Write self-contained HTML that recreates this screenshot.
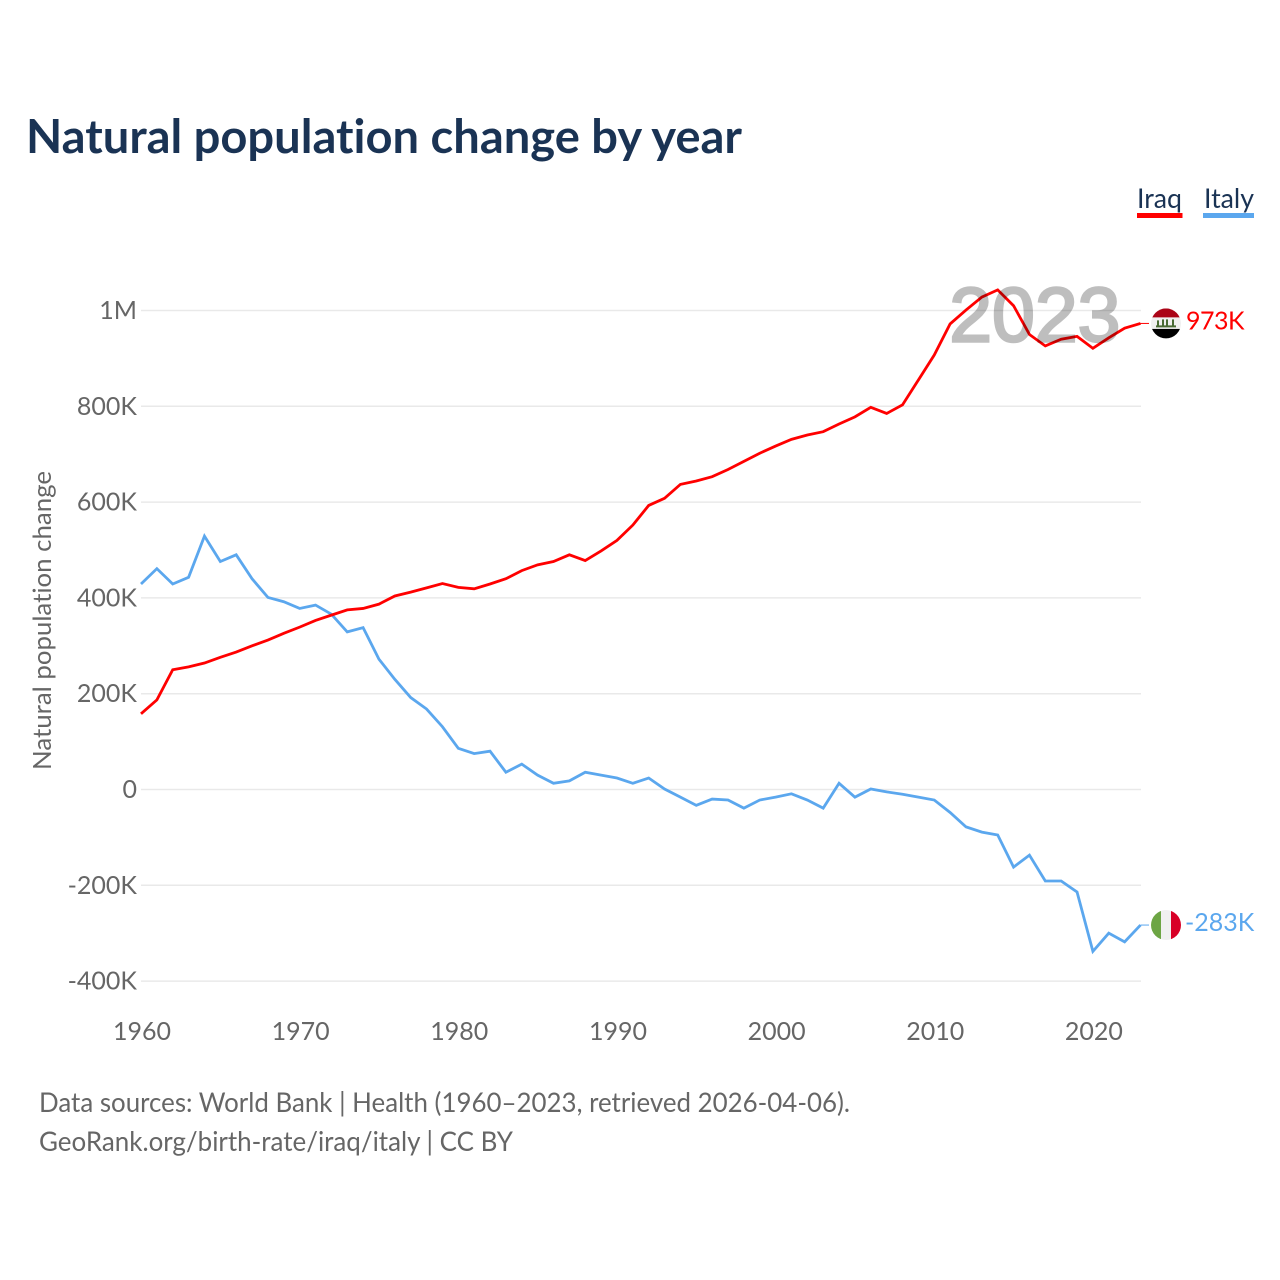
<!DOCTYPE html>
<html lang="en">
<head>
<meta charset="utf-8">
<title>Natural population change by year</title>
<style>
html,body{margin:0;padding:0;background:#fff;}
svg{display:block;}
text{font-family:Lato,Carlito,"Liberation Sans",sans-serif;font-variant-ligatures:none;}
.tick{font-size:25px;fill:#666;}
</style>
</head>
<body>
<svg id="chart" xmlns="http://www.w3.org/2000/svg" width="1280" height="1280" viewBox="0 0 1280 1280">
  <rect width="1280" height="1280" fill="#fff"/>
  <text x="26" y="153" font-size="47" font-weight="700" fill="#1a3354" textLength="716" lengthAdjust="spacingAndGlyphs">Natural population change by year</text>

  <g>
    <g>
      <text x="1137" y="208" font-size="27" fill="#1a3354" textLength="45" lengthAdjust="spacingAndGlyphs">Iraq</text>
      <rect x="1137" y="213" width="45.5" height="5" fill="#ff0000"/>
    </g>
    <g>
      <text x="1204" y="208" font-size="27" fill="#1a3354" textLength="50" lengthAdjust="spacingAndGlyphs">Italy</text>
      <rect x="1203" y="213" width="51" height="5" fill="#5ba7ee"/>
    </g>
  </g>

  <text transform="translate(51,770) rotate(-90)" font-size="25" fill="#666" textLength="299" lengthAdjust="spacingAndGlyphs">Natural population change</text>

  <g id="grid"></g>
  <g id="yticks"></g>
  <g id="xticks"></g>
  <g id="series"></g>

  <text id="year-watermark" x="1120.5" y="341.5" text-anchor="end" font-size="77" fill="#000" stroke="#000" stroke-width="2.5" opacity="0.25" style="font-family:'Liberation Sans',sans-serif">2023</text>

  <defs>
    <clipPath id="flag-clip"><circle cx="0" cy="0" r="15"/></clipPath>
  </defs>
  <g id="flag-iraq" clip-path="url(#flag-clip)">
    <rect x="-15" y="-15" width="30" height="9" fill="#ab0417"/>
    <rect x="-15" y="-6" width="30" height="11.5" fill="#f0f0f0"/>
    <rect x="-15" y="5.5" width="30" height="10" fill="#000"/>
    <path d="M-10 3H10M-8-3V3M-3-4V3M1-4V3M7-4V3" stroke="#4a6b35" stroke-width="2" fill="none"/>
  </g>
  <g id="flag-italy" clip-path="url(#flag-clip)">
    <rect x="-15" y="-15" width="10" height="30" fill="#6da544"/>
    <rect x="-5" y="-15" width="10" height="30" fill="#f0f0f0"/>
    <rect x="5" y="-15" width="10" height="30" fill="#d80027"/>
  </g>
  <text id="label-iraq" x="1186" font-size="25" letter-spacing="-0.5" fill="#ff0000"></text>
  <text id="label-italy" x="1185" font-size="25" fill="#5ba7ee"></text>

  <g>
    <text x="39" y="1112" font-size="27" fill="#666" textLength="811" lengthAdjust="spacingAndGlyphs">Data sources: World Bank | Health (1960–2023, retrieved 2026-04-06).</text>
    <text x="39" y="1151" font-size="27" fill="#666" textLength="474" lengthAdjust="spacingAndGlyphs">GeoRank.org/birth-rate/iraq/italy | CC BY</text>
  </g>
</svg>
<script>
const firstYear = 1960;
const xTickYears = [1960, 1970, 1980, 1990, 2000, 2010, 2020];
const yTickValues = [1000, 800, 600, 400, 200, 0, -200, -400];
const yTickLabels = ['1M', '800K', '600K', '400K', '200K', '0', '-200K', '-400K'];
const iraqValues = [158,187,250,256,264,276,287,300,312,326,339,353,364,375,378,387,404,412,421,430,422,419,429,440,457,469,476,490,478,498,520,552,593,608,637,644,653,668,685,702,717,731,740,747,763,778,798,785,803,855,907,972,1001,1028,1043,1010,950,926,940,946,921,943,963,973];
const italyValues = [429,461,429,443,529,476,490,440,401,392,378,385,366,329,338,272,230,192,168,131,86,75,80,36,53,30,13,18,36,30,24,13,24,1,-16,-33,-20,-22,-39,-22,-16,-9,-22,-39,13,-16,1,-5,-10,-16,-22,-48,-78,-89,-95,-162,-137,-191,-191,-214,-338,-300,-318,-283];
const iraqEndLabel = '973K';
const italyEndLabel = '-283K';

const SVGNS = 'http://www.w3.org/2000/svg';
const xLeft = 141, xRight = 1140.5;
const yZero = 789.5, pxPerUnit = 0.479;
function xScale(year) { return xLeft + (year - firstYear) * (xRight - xLeft) / (2023 - 1960); }
function yScale(v) { return yZero - v * pxPerUnit; }

const gridG = document.getElementById('grid');
const yG = document.getElementById('yticks');
const xG = document.getElementById('xticks');
const seriesG = document.getElementById('series');

yTickValues.forEach(function (v, i) {
  const line = document.createElementNS(SVGNS, 'line');
  
  
  line.setAttribute('x1', xLeft);
  line.setAttribute('x2', 1141);
  line.setAttribute('y1', yScale(v));
  line.setAttribute('y2', yScale(v));
  line.setAttribute('stroke', '#e9e9e9');
  line.setAttribute('stroke-width', '1.5');
  gridG.appendChild(line);

  const t = document.createElementNS(SVGNS, 'text');
  
  
  t.setAttribute('class', 'tick');
  t.setAttribute('x', 137);
  t.setAttribute('y', yScale(v) + 8.5);
  t.setAttribute('text-anchor', 'end');
  t.textContent = yTickLabels[i];
  yG.appendChild(t);
});

xTickYears.forEach(function (yr) {
  const t = document.createElementNS(SVGNS, 'text');
  
  
  t.setAttribute('class', 'tick');
  t.setAttribute('x', xScale(yr) + 1);
  t.setAttribute('y', 1040);
  t.setAttribute('text-anchor', 'middle');
  t.textContent = yr;
  xG.appendChild(t);
});

function linePoints(values) {
  return values.map(function (v, i) {
    return xScale(firstYear + i).toFixed(2) + ',' + yScale(v).toFixed(2);
  }).join(' ');
}

const italyLine = document.createElementNS(SVGNS, 'polyline');


italyLine.setAttribute('points', linePoints(italyValues));
italyLine.setAttribute('fill', 'none');
italyLine.setAttribute('stroke', '#5ba7ee');
italyLine.setAttribute('stroke-width', '2.8');
seriesG.appendChild(italyLine);

const iraqLine = document.createElementNS(SVGNS, 'polyline');


iraqLine.setAttribute('points', linePoints(iraqValues));
iraqLine.setAttribute('fill', 'none');
iraqLine.setAttribute('stroke', '#ff0000');
iraqLine.setAttribute('stroke-width', '2.8');
seriesG.appendChild(iraqLine);

const iraqEndY = yScale(iraqValues[iraqValues.length - 1]);
const italyEndY = yScale(italyValues[italyValues.length - 1]);

const iraqConnector = document.createElementNS(SVGNS, 'line');


iraqConnector.setAttribute('x1', xRight);
iraqConnector.setAttribute('x2', 1149);
iraqConnector.setAttribute('y1', iraqEndY);
iraqConnector.setAttribute('y2', iraqEndY);
iraqConnector.setAttribute('stroke', '#ff0000');
iraqConnector.setAttribute('stroke-width', '1');
seriesG.appendChild(iraqConnector);

const italyConnector = document.createElementNS(SVGNS, 'line');


italyConnector.setAttribute('x1', xRight);
italyConnector.setAttribute('x2', 1149);
italyConnector.setAttribute('y1', italyEndY);
italyConnector.setAttribute('y2', italyEndY);
italyConnector.setAttribute('stroke', '#5ba7ee');
italyConnector.setAttribute('stroke-width', '1');
seriesG.appendChild(italyConnector);

document.getElementById('flag-iraq').setAttribute('transform', 'translate(1166,' + iraqEndY + ')');
document.getElementById('flag-italy').setAttribute('transform', 'translate(1166,' + italyEndY + ')');
const li = document.getElementById('label-iraq');
li.setAttribute('y', iraqEndY + 6);
li.textContent = iraqEndLabel;
const la = document.getElementById('label-italy');
la.setAttribute('y', italyEndY + 6);
la.textContent = italyEndLabel;
</script>
</body>
</html>
